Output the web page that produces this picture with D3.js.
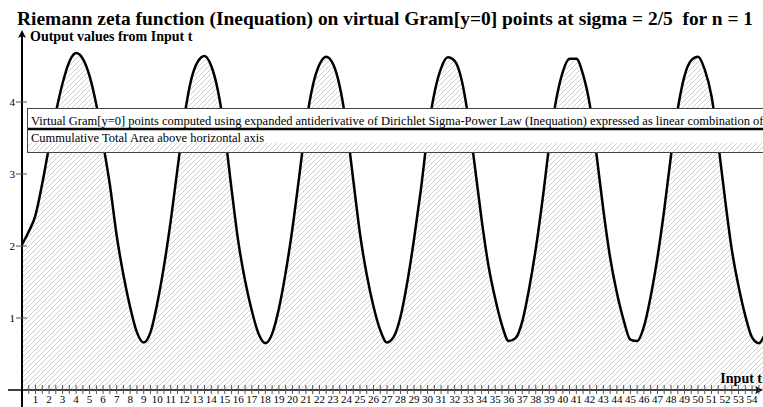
<!DOCTYPE html>
<html lang="en">
<head>
<meta charset="UTF-8"/>
<title>Riemann zeta</title>
<script src="https://d3js.org/d3.v7.min.js"></script>
<style>
  body { margin: 0; background: #fff; }
  text { font-family: "Liberation Serif", "Times New Roman", serif; fill: #000; white-space: pre; }
</style>
</head>
<body>
<svg id="chart" width="763" height="407"></svg>
<script>
// values
var tValues = [0, 0.5, 1, 1.5, 2, 2.5, 3, 3.5, 4, 4.5, 5, 5.5, 6, 6.5, 7, 7.5, 8, 8.5, 9,
  9.5, 10, 10.5, 11, 11.5, 12, 12.5, 13, 13.5, 14, 14.5, 15, 15.5, 16, 16.5, 17, 17.5, 18,
  18.5, 19, 19.5, 20, 20.5, 21, 21.5, 22, 22.5, 23, 23.5, 24, 24.5, 25, 25.5, 26, 26.5, 27,
  27.5, 28, 28.5, 29, 29.5, 30, 30.5, 31, 31.5, 32, 32.5, 33, 33.5, 34, 34.5, 35, 35.5, 36,
  36.5, 37, 37.5, 38, 38.5, 39, 39.5, 40, 40.5, 41, 41.5, 42, 42.5, 43, 43.5, 44, 44.5, 45,
  45.5, 46, 46.5, 47, 47.5, 48, 48.5, 49, 49.5, 50, 50.5, 51, 51.5, 52, 52.5, 53, 53.5, 54,
  54.5, 55];
var areaValues = [2.02, 2.2, 2.43, 2.87, 3.38, 3.85, 4.26, 4.56, 4.68, 4.6, 4.36, 3.96, 3.42, 2.85, 2.15, 1.6, 1.15, 0.8, 0.66,
  0.8, 1.2, 1.72, 2.35, 3.07, 3.78, 4.3, 4.56, 4.64, 4.5, 4.15, 3.57, 2.79, 2.06, 1.52, 1.1, 0.78, 0.65,
  0.78, 1.13, 1.63, 2.24, 2.96, 3.69, 4.22, 4.52, 4.63, 4.53, 4.22, 3.67, 2.92, 2.17, 1.6, 1.16, 0.83, 0.66,
  0.74, 1.02, 1.5, 2.1, 2.78, 3.55, 4.12, 4.47, 4.62, 4.57, 4.32, 3.8, 3.1, 2.36, 1.73, 1.27, 0.9, 0.68,
  0.72, 0.95, 1.4, 1.96, 2.64, 3.4, 4.02, 4.42, 4.6, 4.6, 4.38, 3.96, 3.26, 2.5, 1.84, 1.35, 0.97, 0.7,
  0.68, 0.88, 1.3, 1.84, 2.5, 3.25, 3.9, 4.36, 4.58, 4.63, 4.45, 4.08, 3.42, 2.65, 1.95, 1.44, 1.03, 0.73,
  0.65, 0.8];
var yTickValues = [1, 2, 3, 4];
var titleText = "Riemann zeta function (Inequation) on virtual Gram[y=0] points at sigma = 2/5  for n = 1";
var legendLabels = [
  "Virtual Gram[y=0] points computed using expanded antiderivative of Dirichlet Sigma-Power Law (Inequation) expressed as linear combination of",
  "Cummulative Total Area above horizontal axis"
];

var width = 763, height = 407;
var svg = d3.select("#chart");

var x = d3.scaleLinear().domain([0, 55]).range([22, 765.6]);
var y = d3.scaleLinear().domain([0, 5]).range([390, 30]);

// hatch pattern
var defs = svg.append("defs");
var pat = defs.append("pattern")
  .attr("id", "hatch")
  .attr("patternUnits", "userSpaceOnUse")
  .attr("width", 5).attr("height", 5);
pat.append("path")
  .attr("d", "M-1,1 l2,-2 M0,5 l5,-5 M4,6 l2,-2")
  .attr("stroke", "#c2c2c2")
  .attr("stroke-width", 0.8);

var pts = tValues.map(function(t, i) { return [t, areaValues[i]]; });

// area under the curve
svg.append("path")
  .datum(pts)
  .attr("fill", "url(#hatch)")
  .attr("d", d3.area()
    .x(function(d) { return x(d[0]); })
    .y0(y(0))
    .y1(function(d) { return y(d[1]); })
    .curve(d3.curveMonotoneX));

svg.append("path")
  .datum(pts)
  .attr("fill", "none")
  .attr("stroke", "#000")
  .attr("stroke-width", 2.5)
  .attr("stroke-linejoin", "round")
  .attr("d", d3.line()
    .x(function(d) { return x(d[0]); })
    .y(function(d) { return y(d[1]); })
    .curve(d3.curveMonotoneX));

// axes
svg.append("line").attr("x1", 22).attr("x2", 22).attr("y1", 34).attr("y2", height)
  .attr("stroke", "#000").attr("stroke-width", 2);
svg.append("path").attr("d", "M22,30 L18,38 L22,36 L26,38 Z").attr("fill", "#000");
svg.append("line").attr("x1", 8).attr("x2", 758).attr("y1", y(0)).attr("y2", y(0))
  .attr("stroke", "#000").attr("stroke-width", 1.5);
svg.append("path").attr("d", "M763," + y(0) + " L755," + (y(0) - 4) + " L757," + y(0) + " L755," + (y(0) + 4) + " Z")
  .attr("fill", "#000");

// x ticks (major at integers, minor at halves)
var xMajor = d3.range(1, 55);
var xMinor = xMajor.map(function(v) { return v - 0.5; }).concat([54.5]);
svg.selectAll(".xt").data(xMajor.concat(xMinor)).enter().append("line")
  .attr("x1", function(d) { return x(d); }).attr("x2", function(d) { return x(d); })
  .attr("y1", y(0) - 5).attr("y2", y(0) + 4)
  .attr("stroke", "#555").attr("stroke-width", 1);
svg.selectAll(".xl").data(xMajor).enter().append("text")
  .attr("x", function(d) { return x(d); })
  .attr("y", 403)
  .attr("text-anchor", "middle")
  .style("font-size", "11px")
  .text(function(d) { return d; });

// y ticks
svg.selectAll(".yt").data(yTickValues).enter().append("line")
  .attr("x1", 16).attr("x2", 27)
  .attr("y1", function(d) { return y(d); }).attr("y2", function(d) { return y(d); })
  .attr("stroke", "#555").attr("stroke-width", 1);
svg.selectAll(".yl").data(yTickValues).enter().append("text")
  .attr("x", 15).attr("y", function(d) { return y(d) + 4; })
  .attr("text-anchor", "end")
  .style("font-size", "11px")
  .text(function(d) { return d; });

// titles
svg.append("text").attr("x", 17).attr("y", 25)
  .attr("textLength", 736).attr("lengthAdjust", "spacingAndGlyphs")
  .style("font-size", "19px").style("font-weight", "bold")
  .text(titleText);
svg.append("text").attr("x", 30).attr("y", 41)
  .style("font-size", "14px").style("font-weight", "bold")
  .text("Output values from Input t");
svg.append("text").attr("x", 762).attr("y", 383)
  .attr("text-anchor", "end")
  .style("font-size", "14px").style("font-weight", "bold")
  .text("Input t");

// legend
var lg = svg.append("g");
lg.append("rect").attr("x", 27.5).attr("y", 108.5).attr("width", 760).attr("height", 44)
  .attr("fill", "#fff").attr("stroke", "#444").attr("stroke-width", 1);
lg.append("line").attr("x1", 28).attr("x2", 763).attr("y1", 129).attr("y2", 129)
  .attr("stroke", "#000").attr("stroke-width", 2.5);
lg.append("rect").attr("x", 28).attr("y", 143).attr("width", 740).attr("height", 9)
  .attr("fill", "url(#hatch)");
lg.selectAll(".lt").data(legendLabels).enter().append("text")
  .attr("x", 31)
  .attr("y", function(d, i) { return 125 + i * 17; })
  .style("font-size", "12.5px")
  .text(function(d) { return d; });
</script>
</body>
</html>
